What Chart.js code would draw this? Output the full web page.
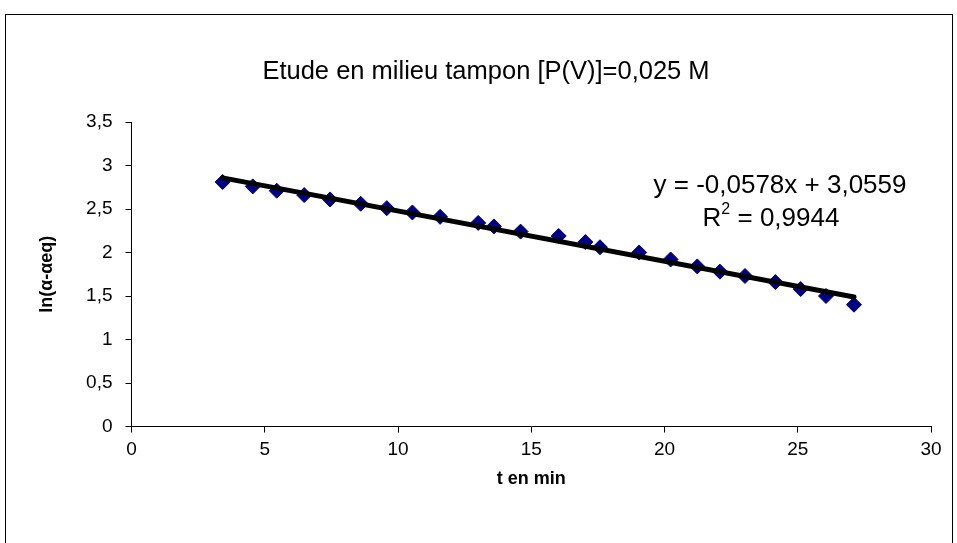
<!DOCTYPE html>
<html>
<head>
<meta charset="utf-8">
<script src="https://cdn.jsdelivr.net/npm/chart.js@4.4.1/dist/chart.umd.min.js"></script>
<style>
  html, body { margin: 0; padding: 0; background: #fff; }
  #frame { position: absolute; left: 5px; top: 14px; width: 946px; height: 540px; border: 1px solid #000; border-bottom: none; }
  #chart { position: absolute; left: 0; top: 0; }
</style>
</head>
<body>
<div id="frame"></div>
<canvas id="chart" width="957" height="543"></canvas>
<script>
// measured points, t in min / ln(alpha - alpha_eq)
const tMin = [3.42, 4.55, 5.45, 6.48, 7.45, 8.60, 9.58, 10.54, 11.58, 13.01, 13.60, 14.60,
              16.03, 17.03, 17.58, 19.05, 20.23, 21.23, 22.08, 23.02, 24.16, 25.11, 26.06, 27.11]
const lnAlpha = [2.81, 2.76, 2.71, 2.66, 2.61, 2.56, 2.51, 2.46, 2.41, 2.34, 2.30, 2.24,
                 2.19, 2.12, 2.06, 2.00, 1.92, 1.84, 1.78, 1.73, 1.66, 1.58, 1.50, 1.40]

// linear trend shown on the chart
const trendSlope = -0.0578
const trendIntercept = 3.0559
const trendR2 = 0.9944

const xTicks = [0, 5, 10, 15, 20, 25, 30]
const yTicks = [0, 0.5, 1, 1.5, 2, 2.5, 3, 3.5]

const fr = (v) => String(v).replace('.', ',')

const points = tMin.map((t, i) => ({ x: t, y: lnAlpha[i] }))
const tFirst = tMin[0]
const tLast = tMin[tMin.length - 1]
const trend = [
  { x: tFirst, y: trendSlope * tFirst + trendIntercept },
  { x: tLast, y: trendSlope * tLast + trendIntercept }
]

const FONT = '"Liberation Sans", Arial, sans-serif'

// trendline equation, placed like the excel label
const eqLabel = {
  id: 'eqLabel',
  afterDatasetsDraw(chart) {
    const ctx = chart.ctx
    const area = chart.chartArea
    ctx.save()
    ctx.fillStyle = '#000'
    ctx.font = '26px ' + FONT
    ctx.textAlign = 'center'
    ctx.textBaseline = 'middle'
    const cx = area.right - 151
    ctx.fillText('y = ' + fr(trendSlope) + 'x + ' + fr(trendIntercept), cx, area.top + 64)
    // R with a small raised 2
    const y2 = area.top + 97
    const a = 'R', b = ' = ' + fr(trendR2)
    const wa = ctx.measureText(a).width
    const wb = ctx.measureText(b).width
    ctx.font = '16px ' + FONT
    const ws = ctx.measureText('2').width
    let x0 = cx - 9 - (wa + ws + wb) / 2
    ctx.textAlign = 'left'
    ctx.fillText('2', x0 + wa, y2 - 9)
    ctx.font = '26px ' + FONT
    ctx.fillText(a, x0, y2)
    ctx.fillText(b, x0 + wa + ws, y2)
    ctx.restore()
  }
}

const axisFont = { family: FONT, size: 19 }
const titleFont = { family: FONT, size: 18, weight: 'bold' }

const ctx = document.getElementById('chart').getContext('2d')
new Chart(ctx, {
  type: 'scatter',
  data: {
    datasets: [
      {
        data: trend,
        showLine: true,
        borderColor: '#000',
        borderWidth: 5,
        borderCapStyle: 'round',
        pointRadius: 0,
        order: 0
      },
      {
        data: points,
        pointStyle: 'rectRot',
        pointRadius: 7.5,
        pointBackgroundColor: '#000080',
        pointBorderColor: '#000080',
        pointBorderWidth: 1,
        order: 1
      }
    ]
  },
  options: {
    responsive: false,
    devicePixelRatio: 1,
    animation: false,
    layout: { padding: { left: 41, right: 26, top: 0, bottom: 0 } },
    plugins: {
      legend: { display: false },
      tooltip: { enabled: false },
      title: {
        display: true,
        text: 'Etude en milieu tampon [P(V)]=0,025 M',
        color: '#000',
        font: { family: FONT, size: 25.5, weight: 'normal' },
        padding: { top: 56.7, bottom: 34.7 }
      }
    },
    scales: {
      x: {
        type: 'linear',
        min: 0,
        max: 30,
        afterFit: (scale) => { scale.height = 116.5 },
        afterBuildTicks: (scale) => { scale.ticks = xTicks.map(v => ({ value: v })) },
        border: { display: true, color: '#000', width: 1 },
        grid: { drawOnChartArea: false, drawTicks: true, tickLength: 6, color: '#000', tickColor: '#000' },
        ticks: { color: '#000', font: axisFont, padding: 6, maxRotation: 0, callback: (v) => fr(v) },
        title: { display: true, text: 't en min', color: '#000', font: titleFont, padding: { top: 0, bottom: 53 } }
      },
      y: {
        type: 'linear',
        min: 0,
        max: 3.5,
        afterFit: (scale) => { scale.width = 90.5 },
        afterBuildTicks: (scale) => { scale.ticks = yTicks.map(v => ({ value: v })) },
        border: { display: true, color: '#000', width: 1 },
        grid: { drawOnChartArea: false, drawTicks: true, tickLength: 6, color: '#000', tickColor: '#000' },
        ticks: { color: '#000', font: axisFont, padding: 13, callback: (v) => fr(v) },
        title: { display: true, text: 'ln(α-αeq)', color: '#000', font: titleFont, padding: { top: -5, bottom: 0 } }
      }
    }
  },
  plugins: [eqLabel]
})
</script>
</body>
</html>
